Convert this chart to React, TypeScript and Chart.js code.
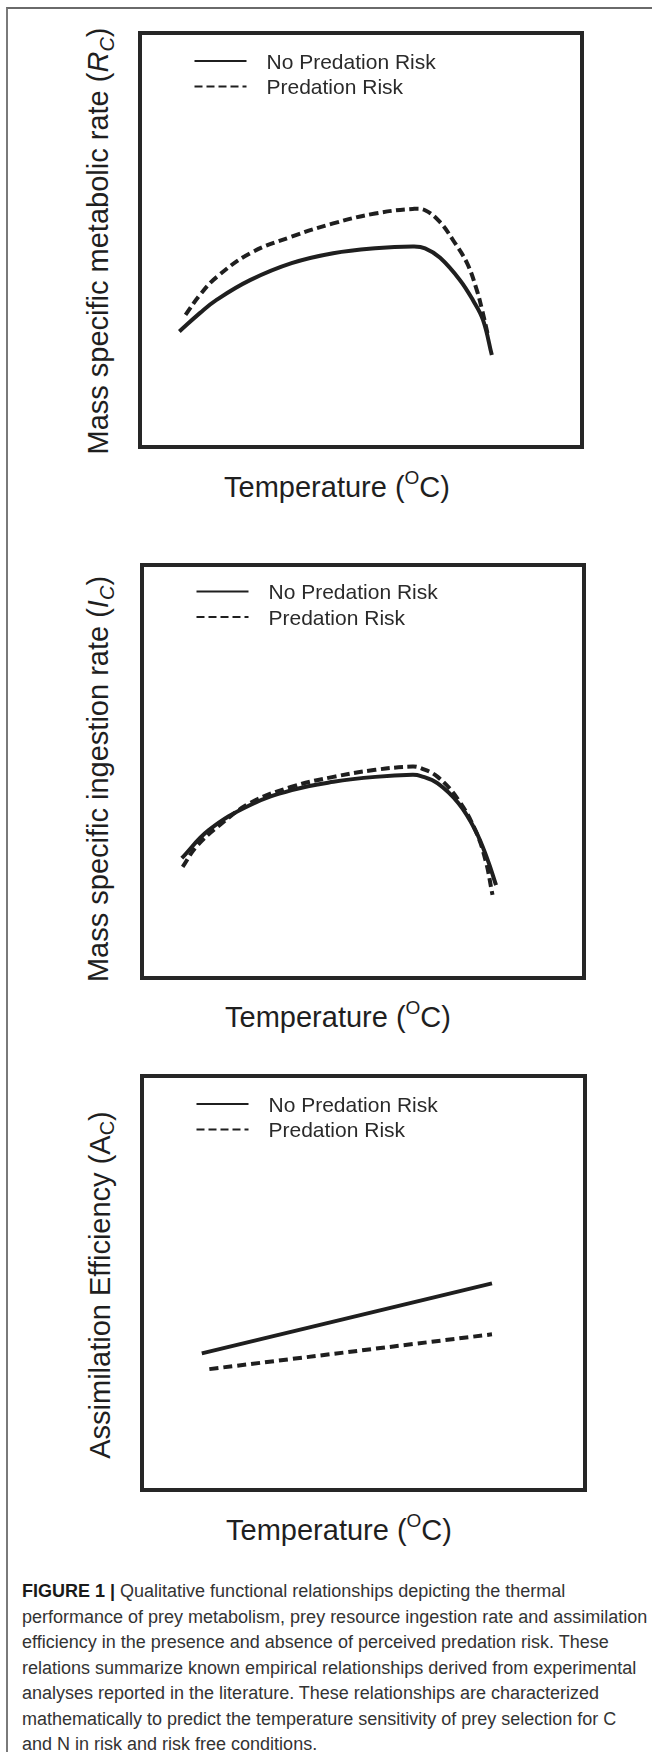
import React, { useEffect, useRef } from 'react';
import { Chart, registerables } from 'chart.js';

Chart.register(...registerables);

// ---------- DATA (qualitative curves, arbitrary 0-100 units) ----------
const seriesLabels = ['No Predation Risk', 'Predation Risk'];

// Panel 1: mass specific metabolic rate
const metabolicNoRiskTemp = [8.9, 13.6, 17.4, 24.9, 34.3, 43.7, 53.2, 61.7, 64.5, 67.9, 72.4, 75.3, 77.6, 79.6];
const metabolicNoRiskRate = [27.9, 32.4, 35.6, 40.3, 44.4, 46.8, 48.0, 48.4, 48.0, 45.7, 40.3, 35.5, 30.7, 22.2];
const metabolicRiskTemp = [10.3, 13.6, 17.4, 24.9, 34.3, 43.7, 53.2, 61.7, 64.5, 67.9, 70.8, 74.0, 76.2, 77.4, 78.7];
const metabolicRiskRate = [31.9, 36.8, 41.1, 46.8, 50.8, 54.0, 56.4, 57.5, 57.2, 54.3, 50.0, 44.4, 37.9, 33.1, 27.1];

// Panel 2: mass specific ingestion rate
const ingestionNoRiskTemp = [9.0, 15.1, 24.5, 33.9, 43.3, 52.8, 61.2, 63.1, 66.9, 71.6, 75.4, 78.2, 80.1];
const ingestionNoRiskRate = [29.0, 35.8, 41.9, 45.5, 47.5, 48.7, 49.2, 48.9, 47.1, 42.3, 35.8, 28.6, 22.5];
const ingestionRiskTemp = [9.2, 12.3, 17.0, 24.5, 33.9, 43.3, 52.8, 61.2, 63.1, 66.9, 71.6, 75.4, 77.7, 79.3];
const ingestionRiskRate = [26.9, 31.8, 36.5, 42.4, 46.3, 48.7, 50.4, 51.2, 50.8, 48.7, 43.1, 35.8, 28.6, 20.1];

// Panel 3: assimilation efficiency
const assimilationNoRiskTemp = [13.5, 79.0];
const assimilationNoRiskEff = [33.0, 49.9];
const assimilationRiskTemp = [15.2, 79.0];
const assimilationRiskEff = [29.2, 37.6];

const axisMin = 0;
const axisMax = 100;

const captionLines = [
  'Qualitative functional relationships depicting the thermal',
  'performance of prey metabolism, prey resource ingestion rate and assimilation',
  'efficiency in the presence and absence of perceived predation risk. These',
  'relations summarize known empirical relationships derived from experimental',
  'analyses reported in the literature. These relationships are characterized',
  'mathematically to predict the temperature sensitivity of prey selection for C',
  'and N in risk and risk free conditions.',
];

// ---------- STYLE / LAYOUT ----------
const FONT = "'Liberation Sans', Arial, Helvetica, sans-serif";
const INK = '#1f1f1f';
const PAD = 12;

const toPoints = (xs: number[], ys: number[]) => xs.map((x, i) => ({ x, y: ys[i] }));

const frameLegendPlugin = {
  id: 'frameLegend',
  afterDraw(chart: any, _args: any, opts: any) {
    const { ctx, chartArea: a } = chart;
    ctx.save();
    ctx.setLineDash([]);
    ctx.lineWidth = opts.frameWidth;
    ctx.strokeStyle = opts.frameColor;
    ctx.strokeRect(a.left, a.top, a.right - a.left, a.bottom - a.top);
    chart.data.datasets.forEach((ds: any, i: number) => {
      const y = a.top + opts.top + i * opts.gap;
      ctx.beginPath();
      ctx.lineWidth = opts.sampleWidth;
      ctx.strokeStyle = ds.borderColor;
      ctx.setLineDash(ds.borderDash && ds.borderDash.length ? opts.sampleDash : []);
      ctx.moveTo(a.left + opts.left, y);
      ctx.lineTo(a.left + opts.left + opts.sampleLength, y);
      ctx.stroke();
      ctx.setLineDash([]);
      ctx.font = opts.font;
      ctx.fillStyle = opts.textColor;
      ctx.textBaseline = 'alphabetic';
      ctx.textAlign = 'left';
      ctx.fillText(ds.label, a.left + opts.textLeft, y + opts.baselineShift);
    });
    ctx.restore();
  },
};

type PanelProps = {
  box: { left: number; top: number; right: number; bottom: number };
  noRiskT: number[];
  noRiskV: number[];
  riskT: number[];
  riskV: number[];
  lineWidth: number;
  dash: number[];
  legendTop: number;
};

function Panel(p: PanelProps) {
  const ref = useRef<HTMLCanvasElement | null>(null);
  const w = p.box.right - p.box.left + 2 * PAD;
  const h = p.box.bottom - p.box.top + 2 * PAD;
  useEffect(() => {
    const chart = new Chart(ref.current as HTMLCanvasElement, {
      type: 'line',
      data: {
        datasets: [
          {
            label: seriesLabels[0],
            data: toPoints(p.noRiskT, p.noRiskV),
            borderColor: INK,
            borderWidth: p.lineWidth,
            pointRadius: 0,
            fill: false,
            tension: 0.4,
          },
          {
            label: seriesLabels[1],
            data: toPoints(p.riskT, p.riskV),
            borderColor: INK,
            borderWidth: p.lineWidth,
            borderDash: p.dash,
            pointRadius: 0,
            fill: false,
            tension: 0.4,
          },
        ],
      } as any,
      options: {
        responsive: false,
        animation: false,
        devicePixelRatio: 1,
        layout: { padding: PAD },
        scales: {
          x: { type: 'linear', min: axisMin, max: axisMax, display: false },
          y: { type: 'linear', min: axisMin, max: axisMax, display: false },
        },
        plugins: {
          legend: { display: false },
          tooltip: { enabled: false },
          frameLegend: {
            frameWidth: 4,
            frameColor: '#262626',
            top: p.legendTop,
            gap: 25.5,
            left: 54.5,
            sampleLength: 52,
            sampleWidth: 2,
            sampleDash: [8, 4],
            textLeft: 126.5,
            baselineShift: 7.5,
            font: `21px ${FONT}`,
            textColor: '#2a2a2a',
          },
        } as any,
      },
      plugins: [frameLegendPlugin],
    } as any);
    return () => chart.destroy();
  }, []);
  return (
    <canvas
      ref={ref}
      width={w}
      height={h}
      style={{ position: 'absolute', left: p.box.left - PAD, top: p.box.top - PAD, width: w, height: h }}
    />
  );
}

function YTitle({ cx, cy, children }: { cx: number; cy: number; children: any }) {
  return (
    <div
      style={{
        position: 'absolute',
        left: cx,
        top: cy,
        transform: 'translate(-50%, -50%) rotate(-90deg)',
        whiteSpace: 'nowrap',
        fontSize: 29,
        lineHeight: '29px',
        fontFamily: FONT,
        color: INK,
      }}
    >
      {children}
    </div>
  );
}

function XTitle({ cx, baseline }: { cx: number; baseline: number }) {
  return (
    <div
      style={{
        position: 'absolute',
        left: cx - 200,
        width: 400,
        top: baseline - 24.5,
        textAlign: 'center',
        whiteSpace: 'nowrap',
        fontSize: 29,
        lineHeight: '29px',
        fontFamily: FONT,
        color: INK,
      }}
    >
      Temperature (<span style={{ fontSize: 19, lineHeight: '19px', position: 'relative', top: -13 }}>O</span>C)
    </div>
  );
}

const subStyle: any = { fontSize: 20, lineHeight: '20px', position: 'relative', top: 6 };

export default function App() {
  return (
    <div
      style={{
        position: 'absolute',
        left: 0,
        top: 0,
        width: 652,
        height: 1752,
        overflow: 'hidden',
        background: '#ffffff',
        fontFamily: FONT,
      }}
    >
      <div
        style={{
          position: 'absolute',
          left: 6,
          top: 7,
          width: 700,
          height: 1800,
          borderTop: '2px solid #6a6a6a',
          borderLeft: '2px solid #7a7a7a',
        }}
      />

      <Panel
        box={{ left: 140, top: 33, right: 582, bottom: 447 }}
        noRiskT={metabolicNoRiskTemp}
        noRiskV={metabolicNoRiskRate}
        riskT={metabolicRiskTemp}
        riskV={metabolicRiskRate}
        lineWidth={4}
        dash={[9, 4.5]}
        legendTop={28}
      />
      <YTitle cx={98} cy={241}>
        Mass specific metabolic rate (<i>R</i>
        <i style={subStyle}>C</i>)
      </YTitle>
      <XTitle cx={337} baseline={497} />

      <Panel
        box={{ left: 141.5, top: 565, right: 584, bottom: 978 }}
        noRiskT={ingestionNoRiskTemp}
        noRiskV={ingestionNoRiskRate}
        riskT={ingestionRiskTemp}
        riskV={ingestionRiskRate}
        lineWidth={4}
        dash={[9, 4.5]}
        legendTop={26.5}
      />
      <YTitle cx={98} cy={779}>
        Mass specific ingestion rate (<i>I</i>
        <i style={subStyle}>C</i>)
      </YTitle>
      <XTitle cx={338} baseline={1027} />

      <Panel
        box={{ left: 142, top: 1076, right: 585, bottom: 1490 }}
        noRiskT={assimilationNoRiskTemp}
        noRiskV={assimilationNoRiskEff}
        riskT={assimilationRiskTemp}
        riskV={assimilationRiskEff}
        lineWidth={4}
        dash={[9, 5]}
        legendTop={28}
      />
      <YTitle cx={100} cy={1285}>
        Assimilation Efficiency (A<span style={{ ...subStyle, top: 4 }}>C</span>)
      </YTitle>
      <XTitle cx={339} baseline={1540} />

      <div
        style={{
          position: 'absolute',
          left: 22,
          top: 1579,
          fontSize: 18,
          lineHeight: '25.5px',
          color: '#333333',
          fontFamily: FONT,
        }}
      >
        {captionLines.map((line, i) => (
          <div key={i} style={{ whiteSpace: 'nowrap' }}>
            {i === 0 ? <b style={{ color: '#1a1a1a' }}>FIGURE 1 | </b> : null}
            {line}
          </div>
        ))}
      </div>
    </div>
  );
}
